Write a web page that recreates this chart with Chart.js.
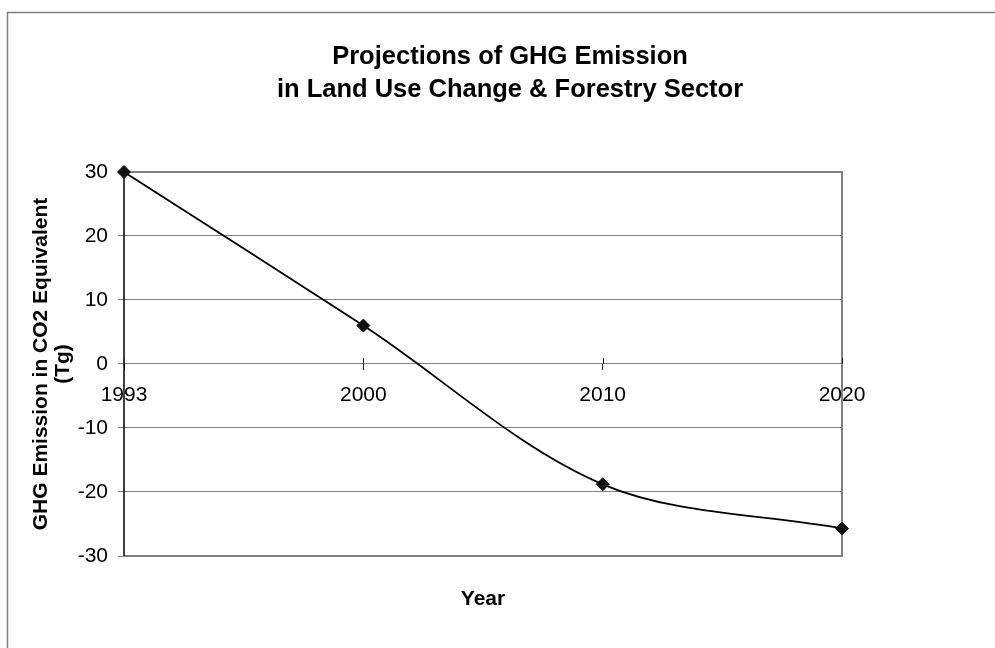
<!DOCTYPE html>
<html>
<head>
<meta charset="utf-8">
<script src="https://cdn.jsdelivr.net/npm/chart.js@4.4.1/dist/chart.umd.min.js"></script>
<style>
  html, body { margin: 0; padding: 0; background: #fff; overflow: hidden; width: 995px; height: 648px; }
  canvas { display: block; }
</style>
</head>
<body>
<canvas id="chart" width="1020" height="648"></canvas>
<script>
// Projected GHG emissions, land use change & forestry (Tg CO2 equivalent)
const years = ['1993', '2000', '2010', '2020'];
const emissions = [30, 6, -18.8, -25.7];
const yTickValues = [-30, -20, -10, 0, 10, 20, 30];
const chartTitle = ['Projections of GHG Emission', 'in Land Use Change & Forestry Sector'];
const yAxisTitle = ['GHG Emission in CO2 Equivalent', '(Tg)'];
const xAxisTitle = 'Year';

const FONT = "'Liberation Sans', Arial, Helvetica, sans-serif";
const GRID = '#808080';

// Outer frame around the whole chart object
const outerFrame = {
  id: 'outerFrame',
  beforeDraw(chart) {
    const ctx = chart.ctx;
    ctx.save();
    ctx.strokeStyle = GRID;
    ctx.lineWidth = 1.5;
    ctx.strokeRect(7.5, 12.5, chart.width - 15, chart.height + 20);
    ctx.restore();
  }
};

// Grey border on the top, right and bottom of the plot area,
// the black value axis, and category ticks crossing the zero line
const plotBorder = {
  id: 'plotBorder',
  beforeDatasetsDraw(chart) {
    const { ctx, chartArea: a } = chart;
    ctx.save();
    ctx.strokeStyle = GRID;
    ctx.lineWidth = 2;
    ctx.beginPath();
    ctx.moveTo(a.left, a.top);
    ctx.lineTo(a.right, a.top);
    ctx.lineTo(a.right, a.bottom);
    ctx.lineTo(a.left, a.bottom);
    ctx.stroke();
    ctx.strokeStyle = '#000';
    ctx.lineWidth = 1.5;
    ctx.beginPath();
    ctx.moveTo(a.left, a.top);
    ctx.lineTo(a.left, a.bottom);
    ctx.stroke();
    const xs = chart.scales.x, ys = chart.scales.y;
    const y0 = ys.getPixelForValue(0);
    ctx.strokeStyle = '#222';
    ctx.lineWidth = 1;
    ctx.beginPath();
    xs.ticks.forEach((t, i) => {
      const px = Math.round(xs.getPixelForTick(i)) + 0.5;
      ctx.moveTo(px, y0 - 6);
      ctx.lineTo(px, y0);
    });
    ctx.stroke();
    ctx.restore();
  }
};

new Chart(document.getElementById('chart'), {
  type: 'line',
  data: {
    labels: years,
    datasets: [{
      data: emissions,
      borderColor: '#000',
      borderWidth: 1.8,
      tension: 0.33,
      pointStyle: 'rectRot',
      pointRadius: 6.5,
      pointBackgroundColor: '#111',
      pointBorderColor: '#111',
      pointBorderWidth: 1,
      clip: false,
      xAxisID: 'x',
      yAxisID: 'y'
    }]
  },
  options: {
    responsive: false,
    animation: false,
    devicePixelRatio: 1,
    layout: { padding: { top: 20, left: 30, right: 30, bottom: 36 } },
    plugins: {
      legend: { display: false },
      tooltip: { enabled: false },
      title: {
        display: true,
        text: chartTitle,
        color: '#000',
        font: { family: FONT, size: 25.5, weight: 'bold', lineHeight: 1.294 },
        padding: { top: 20.5, bottom: 65.5 }
      }
    },
    scales: {
      x: {
        type: 'category',
        position: { y: 0 },
        offset: false,
        grid: { display: true, drawOnChartArea: false, drawTicks: true, tickLength: 6, tickColor: '#222', color: '#222' },
        border: { display: true, color: GRID, width: 1 },
        ticks: { color: '#000', font: { family: FONT, size: 21 }, padding: 12.8, maxRotation: 0, autoSkip: false }
      },
      xTitle: {
        type: 'category',
        position: 'bottom',
        offset: false,
        grid: { display: false, drawTicks: false },
        border: { display: false },
        ticks: { display: false },
        title: {
          display: true, text: xAxisTitle, color: '#000',
          font: { family: FONT, size: 21, weight: 'bold', lineHeight: 1.2 },
          padding: { top: 30.8, bottom: 0 }
        }
      },
      y: {
        position: 'left',
        min: Math.min(...yTickValues),
        max: Math.max(...yTickValues),
        afterBuildTicks(scale) { scale.ticks = yTickValues.map(v => ({ value: v })); },
        afterFit(scale) { scale.width = 94; },
        grid: { color: GRID, lineWidth: 1, tickLength: 6, tickColor: GRID },
        border: { display: false },
        ticks: { color: '#000', font: { family: FONT, size: 21 }, padding: 10 },
        title: {
          display: true, text: yAxisTitle, color: '#000',
          font: { family: FONT, size: 21, weight: 'bold', lineHeight: 1.05 },
          padding: { top: 0, bottom: 3.7 }
        }
      },
      spacer: {
        type: 'linear',
        position: 'right',
        display: true,
        grid: { display: false, drawTicks: false },
        border: { display: false },
        ticks: { display: false },
        afterFit(scale) { scale.width = 148; }
      }
    }
  },
  plugins: [outerFrame, plotBorder]
});
</script>
</body>
</html>
